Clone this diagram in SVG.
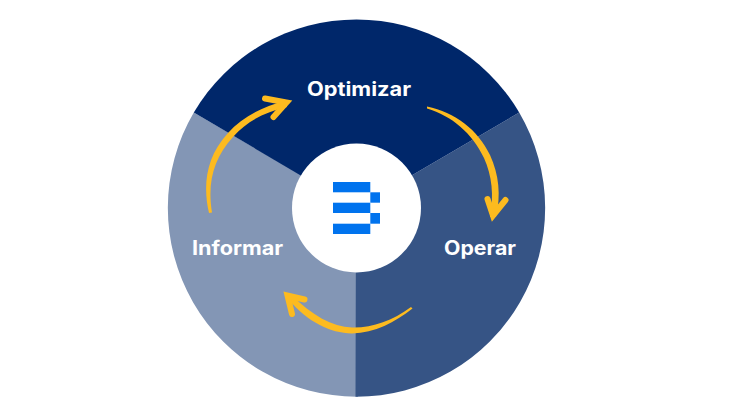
<svg xmlns="http://www.w3.org/2000/svg" width="736" height="416" viewBox="0 0 736 416">
<style>
.label{font-family:"Inter","Liberation Sans",sans-serif;font-weight:700;font-size:19.5px;fill:#fff}
.shaft{fill:#fdbb1f}
.head{fill:none;stroke:#fdbb1f;stroke-width:6;stroke-linecap:round;stroke-linejoin:miter}
.logo{fill:#0073ee}
</style>
<rect width="736" height="416" fill="#fff"/>
<g id="segments">
<path id="seg-informar" d="M358 208L358 396.700A188.700 188.700 0 0 1 193.800 112.500Z" fill="#8396b5"/>
<path id="seg-operar" d="M356 208L519.200 112.500A188.700 188.700 0 0 1 355.500 396.700Z" fill="#365485"/>
<path id="seg-optimizar" d="M356 208L193.800 112.500A188.700 188.700 0 0 1 519.200 112.500Z" fill="#00276a"/>
</g>
<g id="center">
<circle cx="356.500" cy="208" r="64.500" fill="#fff"/>
<g class="logo">
<rect x="333" y="182" width="37.300" height="10.300"/>
<rect x="333" y="202.700" width="37.300" height="10.300"/>
<rect x="333" y="223.700" width="37.300" height="10.300"/>
<rect x="370.300" y="192.300" width="9.700" height="10.400"/>
<rect x="370.300" y="213" width="9.700" height="10.700"/>
</g>
</g>
<g id="connectors">
<g id="arrow-informar-optimizar">
<path class="shaft" d="M209 213C203 187 205 158 228 133C242 117 262 107 285 101L287 107C265 112 247 121 233 137C214 158 207 182 212 212.500Z"/>
<path class="head" d="M265 98.500L286.500 102.500L273.500 117"/>
</g>
<g id="arrow-optimizar-operar">
<path class="shaft" d="M427 106.500C455 112 478 130 490 155C499 175 501 195 496 217L490 217C494 195 492 176 484 158C472 133 452 116 427 108.500Z"/>
<path class="head" d="M487.500 199L493 215.500L505.500 200"/>
</g>
<g id="arrow-operar-informar">
<path class="shaft" d="M412.500 308.500C395 322 375 333 352 333.500C330 333 308 322 289 300L292 295.500C312 315 332 327 352 327.500C372 328 392 321 411 307Z"/>
<path class="head" d="M304.500 299.500L287.500 295.500L292 314"/>
</g>
</g>
<g id="node-optimizar"><text class="label" x="359" y="96" text-anchor="middle" textLength="104" lengthAdjust="spacingAndGlyphs">Optimizar</text></g>
<g id="node-operar"><text class="label" x="480" y="255" text-anchor="middle" textLength="72" lengthAdjust="spacingAndGlyphs">Operar</text></g>
<g id="node-informar"><text class="label" x="237.500" y="255" text-anchor="middle" textLength="91" lengthAdjust="spacingAndGlyphs">Informar</text></g>
</svg>
